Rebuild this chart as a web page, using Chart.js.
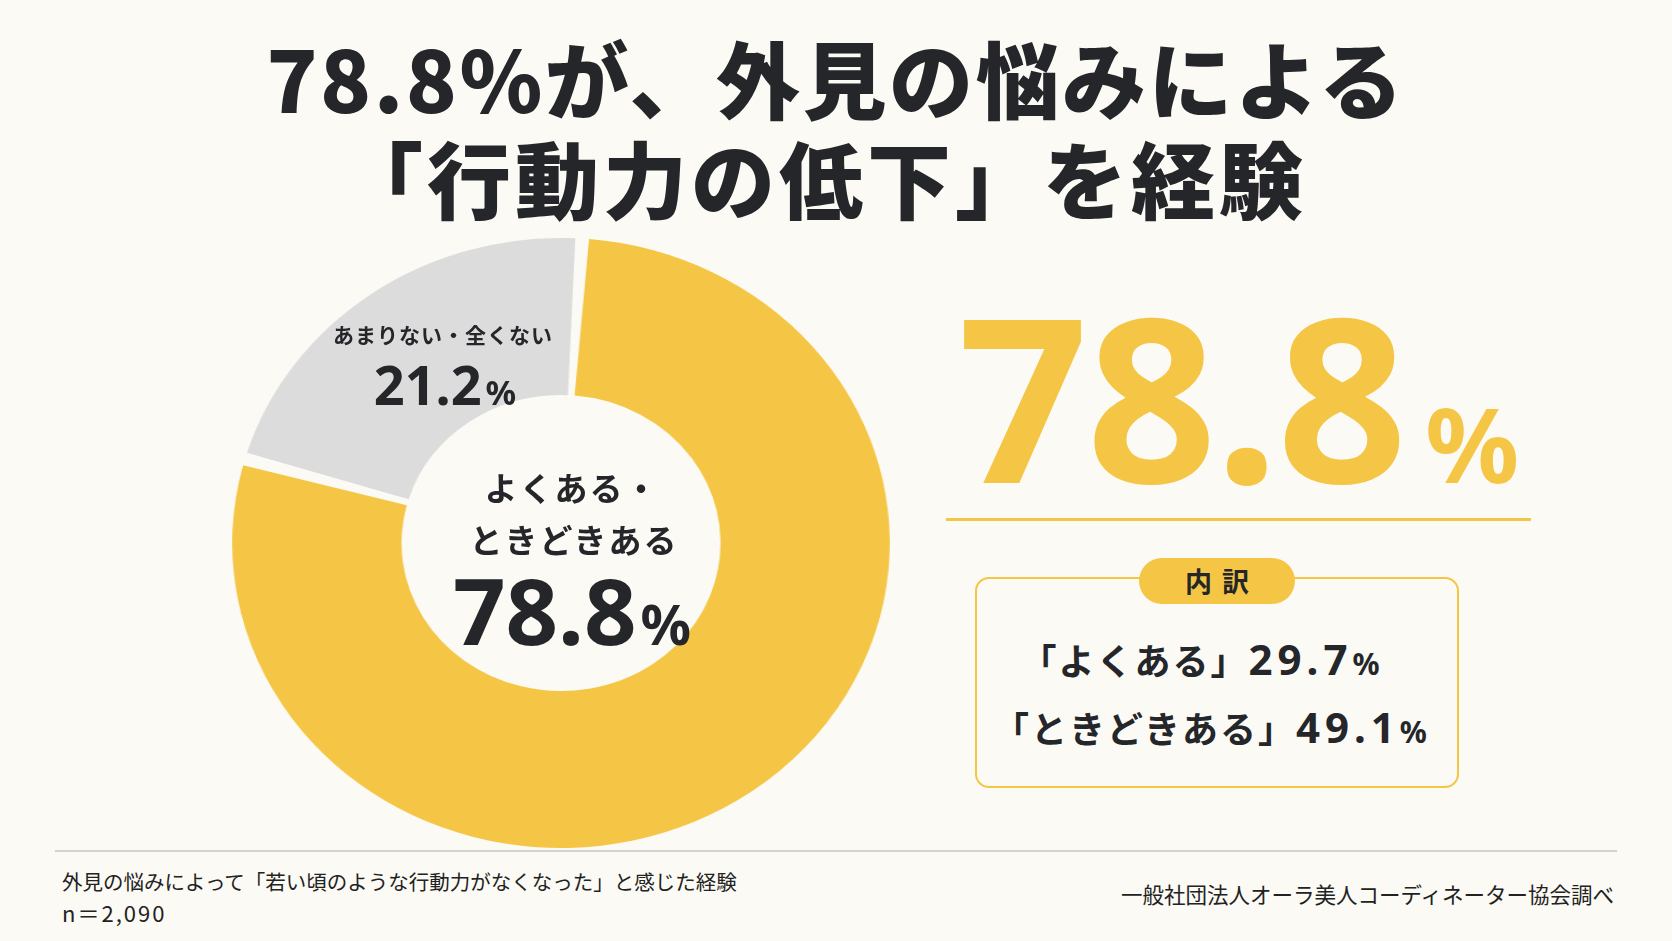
<!DOCTYPE html>
<html lang="ja">
<head>
<meta charset="utf-8">
<script src="https://cdn.jsdelivr.net/npm/chart.js@4.4.1/dist/chart.umd.min.js"></script>
<style>
  html, body { margin: 0; padding: 0; background: #fbfaf5; }
  #page { position: relative; width: 1672px; height: 941px; overflow: hidden;
          font-family: "Noto Sans CJK JP", "Noto Sans", sans-serif; color: #25262a; }
  .abs { position: absolute; white-space: nowrap; }
  .title { left: 0; width: 1672px; text-align: center; font-size: 84px; line-height: 84px;
           font-weight: 900; }
  .mid { transform: translate(-50%, -50%); text-align: center; }
  #donutWrap { position: absolute; left: 256px; top: 238px; width: 610px; height: 610px;
               transform: scaleX(1.078); transform-origin: center center; }
  .num { font-family: "Noto Sans", sans-serif; font-weight: 700; }
  #bigNum { left: 958px; top: 281px; color: #f5c645; line-height: 228px; }
  #bigNum .n { font-size: 228px; letter-spacing: -2px; }
  #bigNum .p { font-size: 104px; margin-left: 20px; }
  #bigRule { left: 946px; top: 518px; width: 585px; height: 3px; background: #f5c645; }
  #box { left: 975px; top: 577px; width: 480px; height: 207px; border: 2px solid #f5c645;
         border-radius: 14px; box-sizing: content-box; }
  #badge { left: 1139px; top: 558px; width: 156px; height: 46px; border-radius: 23px;
           background: #f5c645; text-align: center; line-height: 46px; font-size: 27px;
           font-weight: 700; letter-spacing: 10px; text-indent: 10px; }
  .brk { font-weight: 700; font-size: 36px; line-height: 44px; letter-spacing: 2px; }
  .brk .v { font-family: "Noto Sans", sans-serif; font-size: 42px; letter-spacing: 5px; }
  .brk .pc { font-family: "Noto Sans", sans-serif; font-size: 30px; letter-spacing: 0; }
  #footRule { left: 55px; top: 850px; width: 1562px; height: 2px; background: #d2d2d2; }
  .foot { font-size: 20.5px; line-height: 24px; font-weight: 400; color: #222; }
</style>
</head>
<body>
<div id="page">
  <div class="abs title" style="top:35px; letter-spacing:2.5px;">78.8%が、外見の悩みによる</div>
  <div class="abs title" style="top:135px; letter-spacing:4px; left:-13px;">「行動力の低下」を経験</div>

  <div id="donutWrap"><canvas id="donut"></canvas></div>

  <div class="abs mid" id="grayLabel" style="left:443px; top:334px; font-size:21px; font-weight:700; letter-spacing:1px;"></div>
  <div class="abs mid num" id="grayValue" style="left:445px; top:391px; line-height:60px;"></div>

  <div class="abs mid" id="centerLabel1" style="left:572px; top:487px; font-size:33px; font-weight:700; letter-spacing:2px;"></div>
  <div class="abs mid" id="centerLabel2" style="left:574px; top:539px; font-size:33px; font-weight:700; letter-spacing:2px;"></div>
  <div class="abs mid num" id="centerValue" style="left:572px; top:624px; line-height:100px;"></div>

  <div class="abs num" id="bigNum"></div>
  <div class="abs" id="bigRule"></div>

  <div class="abs" id="box"></div>
  <div class="abs" id="badge">内訳</div>
  <div class="abs mid brk" id="brk1" style="left:1200px; top:661px;"></div>
  <div class="abs mid brk" id="brk2" style="left:1210px; top:729px;"></div>

  <div class="abs" id="footRule"></div>
  <div class="abs foot" style="left:62px; top:869px;">外見の悩みによって「若い頃のような行動力がなくなった」と感じた経験</div>
  <div class="abs foot" id="sample" style="left:62px; top:900px; font-size:22px; letter-spacing:2px;"></div>
  <div class="abs foot" style="right:58px; top:882px; font-size:21.5px;">一般社団法人オーラ美人コーディネーター協会調べ</div>
</div>

<script>
// Data
const categories = ["よくある・ときどきある", "あまりない・全くない"];
const shares = [78.8, 21.2];
const breakdownLabels = ["よくある", "ときどきある"];
const breakdownValues = [29.7, 49.1];
const sampleSize = 2090;

const yellow = "#f5c645";
const gray = "#dcdcdc";

// Labels on the donut
document.getElementById("grayLabel").textContent = categories[1];
document.getElementById("grayValue").innerHTML =
  `<span style="font-size:54px">${shares[1].toFixed(1)}</span><span style="font-size:34px; margin-left:4px">%</span>`;

const parts = categories[0].split("・");
document.getElementById("centerLabel1").textContent = parts[0] + "・";
document.getElementById("centerLabel2").textContent = parts[1];
document.getElementById("centerValue").innerHTML =
  `<span style="font-size:92px">${shares[0].toFixed(1)}</span><span style="font-size:56px; margin-left:4px">%</span>`;

// Big number on the right
document.getElementById("bigNum").innerHTML =
  `<span class="n">${shares[0].toFixed(1)}</span><span class="p">%</span>`;

// Breakdown box
breakdownLabels.forEach((label, i) => {
  document.getElementById("brk" + (i + 1)).innerHTML =
    `「${label}」<span class="v">${breakdownValues[i].toFixed(1)}</span><span class="pc">%</span>`;
});

document.getElementById("sample").textContent = "n＝" + sampleSize.toLocaleString("en-US");

// Chart
const ctx = document.getElementById("donut");

new Chart(ctx, {
  type: "doughnut",
  data: {
    labels: categories,
    datasets: [{
      data: shares,
      backgroundColor: [yellow, gray],
      borderWidth: 0,
      spacing: 6
    }]
  },
  options: {
    responsive: true,
    maintainAspectRatio: false,
    cutout: "48%",
    rotation: 3,
    animation: false,
    layout: { padding: 0 },
    plugins: {
      legend: { display: false },
      tooltip: { enabled: false }
    }
  }
});
</script>
</body>
</html>
